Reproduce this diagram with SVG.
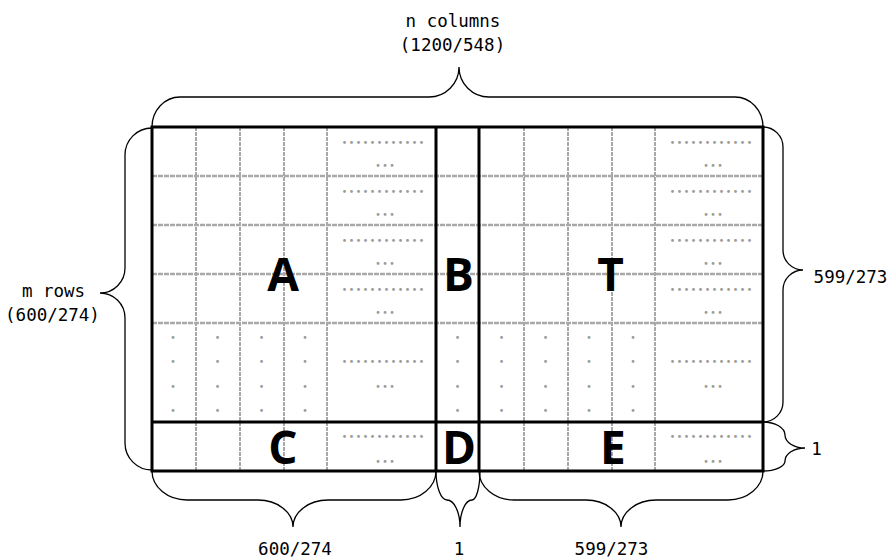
<svg xmlns="http://www.w3.org/2000/svg" width="892" height="558" viewBox="0 0 892 558">
<style>
.hg{stroke:#a8a8a8;stroke-width:2.6;stroke-dasharray:5 1;fill:none}
.vg{stroke:#a8a8a8;stroke-width:2;stroke-dasharray:4 1;fill:none}
.thick{stroke:#000;stroke-width:3;fill:none}
.brace{stroke:#000;stroke-width:1.3;fill:none}
.dl{font-family:"Noto Sans CJK JP",sans-serif;font-size:13px;letter-spacing:-6px;fill:#9a9a9a;text-anchor:middle}
.vd{font-family:"Noto Sans CJK JP",sans-serif;font-size:13px;fill:#9a9a9a;text-anchor:middle}
.big{font-family:"Open Sans","Liberation Sans",sans-serif;font-weight:bold;font-size:46px;fill:#000;text-anchor:middle}
.lbl{font-family:"DejaVu Sans Mono",monospace;font-size:17.5px;fill:#000;text-anchor:middle}
</style>
<rect width="892" height="558" fill="#fff"/>
<g id="grid-lines">
  <path class="hg" d="M152,176H763M152,225H763M152,274H763M152,323H763"/>
  <path class="vg" d="M196,127V471M240,127V471M284,127V471M327,127V471M524,127V471M568,127V471M612,127V471M655,127V471"/>
</g>
<g id="ellipsis-marks">
  <text class="dl" x="380" y="147">・・・・・・・・・・・・</text><text class="dl" x="708" y="147">・・・・・・・・・・・・</text>
  <text class="dl" x="382" y="170">・・・</text><text class="dl" x="710" y="170">・・・</text>
  <text class="dl" x="380" y="196">・・・・・・・・・・・・</text><text class="dl" x="708" y="196">・・・・・・・・・・・・</text>
  <text class="dl" x="382" y="219">・・・</text><text class="dl" x="710" y="219">・・・</text>
  <text class="dl" x="380" y="245">・・・・・・・・・・・・</text><text class="dl" x="708" y="245">・・・・・・・・・・・・</text>
  <text class="dl" x="382" y="268">・・・</text><text class="dl" x="710" y="268">・・・</text>
  <text class="dl" x="380" y="294">・・・・・・・・・・・・</text><text class="dl" x="708" y="294">・・・・・・・・・・・・</text>
  <text class="dl" x="382" y="317">・・・</text><text class="dl" x="710" y="317">・・・</text>
  <text class="dl" x="380" y="366">・・・・・・・・・・・・</text><text class="dl" x="708" y="366">・・・・・・・・・・・・</text>
  <text class="dl" x="382" y="391">・・・</text><text class="dl" x="710" y="391">・・・</text>
  <text class="dl" x="380" y="441">・・・・・・・・・・・・</text><text class="dl" x="708" y="441">・・・・・・・・・・・・</text>
  <text class="dl" x="382" y="466">・・・</text><text class="dl" x="710" y="466">・・・</text>
  <text class="vd" x="173 217.5 261.5 305" y="342">・・・・</text>
  <text class="vd" x="457.5 501.5 545.5 589 633" y="342">・・・・・</text>
  <text class="vd" x="173 217.5 261.5 305" y="366">・・・・</text>
  <text class="vd" x="457.5 501.5 545.5 589 633" y="366">・・・・・</text>
  <text class="vd" x="173 217.5 261.5 305" y="391">・・・・</text>
  <text class="vd" x="457.5 501.5 545.5 589 633" y="391">・・・・・</text>
  <text class="vd" x="173 217.5 261.5 305" y="415">・・・・</text>
  <text class="vd" x="457.5 501.5 545.5 589 633" y="415">・・・・・</text>
</g>
<g id="block-frame">
  <rect class="thick" x="152" y="127" width="611" height="344"/>
  <path class="thick" d="M436,127V471M479,127V471M152,422H763"/>
</g>
<g id="node-A"><text class="big" x="283" y="291">A</text></g>
<g id="node-B"><text class="big" x="458.5" y="291">B</text></g>
<g id="node-T"><text class="big" x="610.5" y="291">T</text></g>
<g id="node-C"><text class="big" x="283" y="464">C</text></g>
<g id="node-D"><text class="big" x="459" y="464">D</text></g>
<g id="node-E"><text class="big" x="613" y="464">E</text></g>
<g id="connectors">
  <path class="brace" d="M152,127A28,30 0 0 1 180,97L429,97A30,30 0 0 0 459,67A30,30 0 0 0 489,97L735,97A28,30 0 0 1 763,127"/>
  <path class="brace" d="M152,128A27,27 0 0 0 125,155L125,268A25,25 0 0 1 100,293A25,25 0 0 1 125,318L125,443A27,27 0 0 0 152,470"/>
  <path class="brace" d="M763,127A20,20 0 0 1 783,147L783,250A20,20 0 0 0 803,270A20,20 0 0 0 783,290L783,402A20,20 0 0 1 763,422"/>
  <path class="brace" d="M763,422A22,13 0 0 1 785,435A20,13 0 0 0 805,448A20,13 0 0 0 785,461A22,10 0 0 1 763,471"/>
  <path class="brace" d="M152,471A35,29 0 0 0 187,500L258,500A35,27 0 0 1 293,527A35,27 0 0 1 328,500L401,500A35,29 0 0 0 436,471"/>
  <path class="brace" d="M436,471A11,29 0 0 0 447,500A13,27 0 0 1 460,527A12,27 0 0 1 472,500A8,29 0 0 0 480,471"/>
  <path class="brace" d="M479,471A35,29 0 0 0 514,500L586,500A35,27 0 0 1 621,527A35,27 0 0 1 656,500L728,500A35,29 0 0 0 763,471"/>
</g>
<g id="labels">
  <text class="lbl" x="453" y="27">n columns</text>
  <text class="lbl" x="452.5" y="51">(1200/548)</text>
  <text class="lbl" x="53.5" y="297">m rows</text>
  <text class="lbl" x="52.5" y="321">(600/274)</text>
  <text class="lbl" x="850.5" y="283">599/273</text>
  <text class="lbl" x="816.5" y="455">1</text>
  <text class="lbl" x="295" y="555">600/274</text>
  <text class="lbl" x="459" y="555">1</text>
  <text class="lbl" x="611.5" y="555">599/273</text>
</g>
</svg>
